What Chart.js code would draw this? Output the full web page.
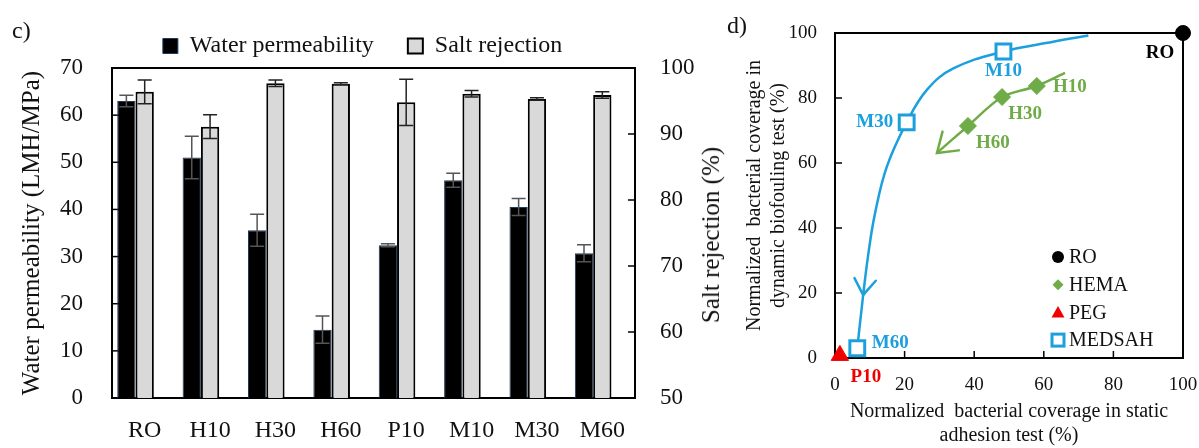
<!DOCTYPE html>
<html>
<head>
<meta charset="utf-8">
<script src="https://cdn.jsdelivr.net/npm/chart.js@4.4.0/dist/chart.umd.min.js"></script>
<style>
  html, body { margin: 0; padding: 0; background: #fff; }
  body {
    width: 1199px; height: 448px; position: relative; overflow: hidden;
    font-family: "Liberation Serif", "Times New Roman", serif; color: #111;
  }
  #wrapC { position: absolute; left: 0; top: 0; width: 725px; height: 448px; }
  #wrapD { position: absolute; left: 720px; top: 0; width: 479px; height: 448px; }
  .panel { position: absolute; font-size: 24px; line-height: 1; }
  #rightTitle {
    position: absolute; left: 711px; top: 235px; font-size: 25px; white-space: nowrap;
    transform: translate(-50%, -50%) rotate(-90deg);
  }
</style>
</head>
<body>
<div id="wrapC"><canvas id="chartC"></canvas></div>
<div id="wrapD"><canvas id="chartD"></canvas></div>
<div class="panel" style="left:12px;top:18px;">c)</div>
<div class="panel" style="left:727px;top:13px;">d)</div>
<div id="rightTitle">Salt rejection (%)</div>
<script>
// ---- panel c data ----
const categories = ["RO", "H10", "H30", "H60", "P10", "M10", "M30", "M60"];
const permeability = [63, 51, 35.6, 14.5, 32.4, 46.2, 40.5, 30.7];
const permeabilityErr = [1.2, 4.5, 3.4, 2.9, 0.3, 1.5, 1.8, 1.8];
const saltRejection = [96.4, 91.1, 97.7, 97.6, 94.8, 96.1, 95.3, 95.9];
const saltRejectionErr = [1.8, 1.8, 0.5, 0.15, 3.5, 0.5, 0.2, 0.5];
const permRange = [0, 70];
const saltRange = [50, 100];

// ---- panel d data (static %, dynamic %) ----
const roStatic = [100], roDynamic = [100], roLabels = ["RO"];
const hemaStatic = [58, 48, 38.2], hemaDynamic = [83.7, 80.3, 71.4], hemaLabels = ["H10", "H30", "H60"];
const pegStatic = [1.4], pegDynamic = [0.8], pegLabels = ["P10"];
const medsahStatic = [48.4, 20.6, 6.4], medsahDynamic = [94.3, 72.5, 3.0], medsahLabels = ["M10", "M30", "M60"];
const hemaTrendX = [66.1, 58, 48, 38.2, 29.3];
const hemaTrendY = [87.7, 83.7, 80.3, 71.4, 63.1];
const medsahTrendX = [72.8, 62.7, 48.4, 34, 26.4, 20.6, 14.9, 11.5, 9.6, 8.1, 6.4];
const medsahTrendY = [99.2, 97.3, 94.3, 89.1, 82.5, 72.5, 58.9, 44.5, 32.2, 19.4, 3.0];
const medsahArrowFrom = [9.6, 32.2], medsahArrowTo = [8.1, 19.4];
const hemaArrowFrom = [38.2, 71.4], hemaArrowTo = [29.3, 63.1];

const BLUE = "#1ca0dd";
const GREEN = "#6fab46";
const RED = "#f00000";
const TEXT = "#111";
const SERIF = '"Liberation Serif", "Times New Roman", serif';

Chart.defaults.font.family = SERIF;
Chart.defaults.color = TEXT;

const xy = (xs, ys) => xs.map((x, i) => ({ x: x, y: ys[i] }));
const noGrid = { display: false, drawTicks: false };

// box round the plot + short inward tick marks
const frameAndTicks = {
  id: "frameAndTicks",
  beforeDatasetsDraw(chart) {
    const { ctx, chartArea: a } = chart;
    ctx.save();
    ctx.strokeStyle = "#000";
    ctx.lineWidth = 2;
    ctx.strokeRect(a.left, a.top, a.width, a.height);
    ctx.lineWidth = 1.5;
    const len = 7;
    Object.values(chart.scales).forEach((scale) => {
      if (scale.type === "category") return;
      scale.ticks.forEach((t) => {
        const p = scale.getPixelForValue(t.value);
        ctx.beginPath();
        if (scale.position === "left") { ctx.moveTo(a.left, p); ctx.lineTo(a.left + len, p); }
        else if (scale.position === "right") { ctx.moveTo(a.right, p); ctx.lineTo(a.right - len, p); }
        else { ctx.moveTo(p, a.bottom); ctx.lineTo(p, a.bottom - len); }
        ctx.stroke();
      });
    });
    ctx.restore();
  },
};

const errorBars = {
  id: "errorBars",
  afterDatasetsDraw(chart, args, opts) {
    const ctx = chart.ctx;
    chart.data.datasets.forEach((ds, di) => {
      if (!ds.errors) return;
      const meta = chart.getDatasetMeta(di);
      const scale = chart.scales[ds.yAxisID];
      ctx.save();
      ctx.strokeStyle = ds.errorColor;
      ctx.lineWidth = 1.5;
      meta.data.forEach((bar, i) => {
        const v = ds.data[i], e = ds.errors[i];
        const yTop = scale.getPixelForValue(v + e);
        const yBot = scale.getPixelForValue(v - e);
        const hw = opts.capWidth / 2;
        ctx.beginPath();
        ctx.moveTo(bar.x, yTop); ctx.lineTo(bar.x, yBot);
        ctx.moveTo(bar.x - hw, yTop); ctx.lineTo(bar.x + hw, yTop);
        ctx.moveTo(bar.x - hw, yBot); ctx.lineTo(bar.x + hw, yBot);
        ctx.stroke();
      });
      ctx.restore();
    });
  },
};

new Chart(document.getElementById("chartC"), {
  type: "bar",
  data: {
    labels: categories,
    datasets: [
      {
        label: "Water permeability", data: permeability, errors: permeabilityErr, errorColor: "#555",
        yAxisID: "y", backgroundColor: "#000", borderColor: "#1d3b5e", borderWidth: 1,
      },
      {
        label: "Salt rejection", data: saltRejection, errors: saltRejectionErr, errorColor: "#222",
        yAxisID: "y2", backgroundColor: "#d9d9d9", borderColor: "#000", borderWidth: 2,
      },
      // empty slot so each pair sits a little left of its label, as in the original
      { label: "", data: categories.map(() => null), yAxisID: "y" },
    ],
  },
  options: {
    responsive: true,
    maintainAspectRatio: false,
    animation: false,
    layout: { padding: { top: 0, left: 0, right: 0, bottom: 0 } },
    datasets: { bar: { categoryPercentage: 0.84, barPercentage: 1 } },
    plugins: {
      legend: {
        position: "top",
        labels: {
          font: { size: 24 }, color: TEXT, boxWidth: 15, boxHeight: 15, padding: 34,
          filter: (item) => item.text !== "",
        },
      },
      tooltip: { enabled: false },
      errorBars: { capWidth: 14 },
    },
    scales: {
      x: {
        grid: noGrid, border: { display: false },
        ticks: { font: { size: 24 }, padding: 18 },
        afterFit: (s) => { s.height = 50; },
      },
      y: {
        position: "left", min: permRange[0], max: permRange[1],
        ticks: { stepSize: 10, font: { size: 23 }, padding: 29 },
        grid: noGrid, border: { display: false },
        title: { display: true, text: "Water permeability (LMH/MPa)", font: { size: 25 }, padding: { top: 17, bottom: 0 } },
        afterFit: (s) => { s.width = 112; },
      },
      y2: {
        position: "right", min: saltRange[0], max: saltRange[1],
        ticks: { stepSize: 10, font: { size: 23 }, padding: 25 },
        grid: noGrid, border: { display: false },
        afterFit: (s) => { s.width = 90; },
      },
    },
  },
  plugins: [frameAndTicks, errorBars],
});

// ---- panel d ----
const LABEL_OFFSETS = {
  RO: [-23, 20], M10: [0, 20], M30: [-32, 0], M60: [33, -5],
  H10: [33, 1], H30: [23, 17], H60: [25, 17], P10: [26, 22],
};

const pointLabels = {
  id: "pointLabels",
  afterDatasetsDraw(chart) {
    const ctx = chart.ctx;
    ctx.save();
    ctx.font = "bold 19px " + SERIF;
    ctx.textAlign = "center";
    ctx.textBaseline = "middle";
    chart.data.datasets.forEach((ds, di) => {
      if (!ds.pointLabels) return;
      const meta = chart.getDatasetMeta(di);
      ctx.fillStyle = ds.labelColor;
      meta.data.forEach((pt, i) => {
        const text = ds.pointLabels[i];
        const off = LABEL_OFFSETS[text] || [0, 0];
        ctx.fillText(text, pt.x + off[0], pt.y + off[1]);
      });
    });
    ctx.restore();
  },
};

const arrowHeads = {
  id: "arrowHeads",
  afterDatasetsDraw(chart, args, opts) {
    const { ctx, scales: { x, y } } = chart;
    opts.arrows.forEach((a) => {
      const x0 = x.getPixelForValue(a.from[0]), y0 = y.getPixelForValue(a.from[1]);
      const x1 = x.getPixelForValue(a.to[0]), y1 = y.getPixelForValue(a.to[1]);
      const ang = Math.atan2(y1 - y0, x1 - x0);
      const len = a.len, spread = 0.6;
      ctx.save();
      ctx.strokeStyle = a.color;
      ctx.lineWidth = 2.5;
      ctx.lineCap = "round";
      ctx.beginPath();
      ctx.moveTo(x1 - len * Math.cos(ang - spread), y1 - len * Math.sin(ang - spread));
      ctx.lineTo(x1, y1);
      ctx.lineTo(x1 - len * Math.cos(ang + spread), y1 - len * Math.sin(ang + spread));
      ctx.stroke();
      ctx.restore();
    });
  },
};

function drawMarker(ctx, style, cx, cy, color) {
  ctx.fillStyle = color;
  ctx.strokeStyle = color;
  ctx.beginPath();
  if (style === "circle") {
    ctx.arc(cx, cy, 6, 0, Math.PI * 2);
    ctx.fill();
  } else if (style === "rectRot") {
    ctx.moveTo(cx, cy - 5.5); ctx.lineTo(cx + 5.5, cy); ctx.lineTo(cx, cy + 5.5); ctx.lineTo(cx - 5.5, cy);
    ctx.closePath(); ctx.fill();
  } else if (style === "triangle") {
    ctx.moveTo(cx, cy - 6.5); ctx.lineTo(cx + 6.5, cy + 5); ctx.lineTo(cx - 6.5, cy + 5);
    ctx.closePath(); ctx.fill();
  } else {
    ctx.lineWidth = 3;
    ctx.strokeRect(cx - 6, cy - 6, 12, 12);
  }
}

const insideLegend = {
  id: "insideLegend",
  afterDraw(chart, args, opts) {
    const { ctx, chartArea: a } = chart;
    const items = chart.data.datasets.filter((ds) => ds.inLegend);
    ctx.save();
    ctx.font = "20px " + SERIF;
    ctx.textBaseline = "middle";
    items.forEach((ds, i) => {
      const cx = a.right + opts.offsetX;
      const cy = a.bottom + opts.offsetY + i * opts.rowHeight;
      drawMarker(ctx, ds.pointStyle, cx, cy, ds.borderColor);
      ctx.fillStyle = TEXT;
      ctx.fillText(ds.label, cx + 11, cy + 1);
    });
    ctx.restore();
  },
};

new Chart(document.getElementById("chartD"), {
  type: "scatter",
  data: {
    datasets: [
      {
        label: "RO", data: xy(roStatic, roDynamic), inLegend: true, pointLabels: roLabels, labelColor: "#000",
        pointStyle: "circle", pointRadius: 7.5, backgroundColor: "#000", borderColor: "#000",
      },
      {
        label: "HEMA", data: xy(hemaStatic, hemaDynamic), inLegend: true, pointLabels: hemaLabels, labelColor: GREEN,
        pointStyle: "rectRot", pointRadius: 8.5, backgroundColor: GREEN, borderColor: GREEN,
      },
      {
        label: "PEG", data: xy(pegStatic, pegDynamic), inLegend: true, pointLabels: pegLabels, labelColor: RED,
        pointStyle: "triangle", pointRadius: 10, backgroundColor: RED, borderColor: RED,
      },
      {
        label: "MEDSAH", data: xy(medsahStatic, medsahDynamic), inLegend: true, pointLabels: medsahLabels, labelColor: BLUE,
        pointStyle: "rect", pointRadius: 10.5, backgroundColor: "#fff", borderColor: BLUE, borderWidth: 3,
      },
      {
        label: "MEDSAH trend", data: xy(medsahTrendX, medsahTrendY), showLine: true, pointRadius: 0,
        borderColor: BLUE, borderWidth: 2.5, tension: 0.4,
      },
      {
        label: "HEMA trend", data: xy(hemaTrendX, hemaTrendY), showLine: true, pointRadius: 0,
        borderColor: GREEN, borderWidth: 2.5, tension: 0.3,
      },
    ],
  },
  options: {
    responsive: true,
    maintainAspectRatio: false,
    animation: false,
    layout: { padding: { top: 33, right: 16, left: 0, bottom: 0 } },
    datasets: { scatter: { clip: false } },
    plugins: {
      legend: { display: false },
      tooltip: { enabled: false },
      arrowHeads: {
        arrows: [
          { from: medsahArrowFrom, to: medsahArrowTo, color: BLUE, len: 19 },
          { from: hemaArrowFrom, to: hemaArrowTo, color: GREEN, len: 22 },
        ],
      },
      insideLegend: { offsetX: -125, offsetY: -101, rowHeight: 27.7 },
    },
    scales: {
      x: {
        type: "linear", min: 0, max: 100,
        ticks: { stepSize: 20, font: { size: 19 }, padding: 16 },
        grid: noGrid, border: { display: false },
        title: {
          display: true, text: ["Normalized  bacterial coverage in static", "adhesion test (%)"],
          font: { size: 20 }, padding: { top: 0, bottom: 0 },
        },
        afterFit: (s) => { s.height = 90; s.paddingLeft = 0; s.paddingRight = 0; },
      },
      y: {
        type: "linear", min: 0, max: 100,
        ticks: { stepSize: 20, font: { size: 19 }, padding: 18 },
        grid: noGrid, border: { display: false },
        title: {
          display: true, text: ["Normalized  bacterial coverage in", "dynamic biofouling test (%)"],
          font: { size: 20 }, padding: { top: 23, bottom: 0 },
        },
        afterFit: (s) => { s.width = 115; s.paddingTop = 0; s.paddingBottom = 0; },
      },
    },
  },
  plugins: [frameAndTicks, pointLabels, arrowHeads, insideLegend],
});
</script>
</body>
</html>
